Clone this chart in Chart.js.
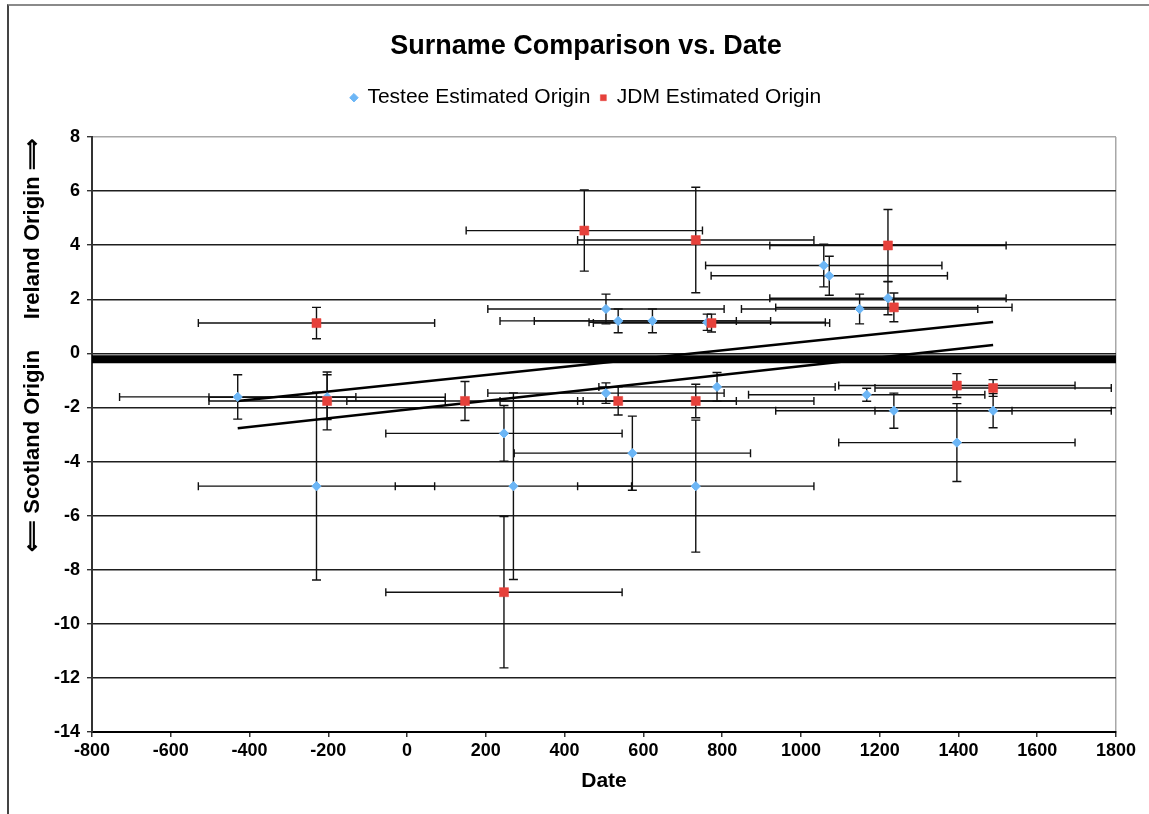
<!DOCTYPE html>
<html>
<head>
<meta charset="utf-8">
<script src="https://cdn.jsdelivr.net/npm/chart.js@4.4.1/dist/chart.umd.min.js"></script>
<style>
  html, body { margin: 0; padding: 0; background: #fff; }
  #wrap { position: relative; width: 1149px; height: 814px; overflow: hidden; }
  #frame { position: absolute; left: 7px; top: 4px; width: 1150px; height: 820px;
           border-left: 2px solid #444; border-top: 2px solid #8a8a8a; pointer-events: none; }
  canvas { position: absolute; left: 0; top: 0; }
</style>
</head>
<body>
<div id="wrap">
  <canvas id="c" width="1149" height="814"></canvas>
  <div id="frame"></div>
</div>
<script>
// ---- data ----
const chartTitle = 'Surname Comparison vs. Date';
const xTitle = 'Date';
const yTitle = '\u27F8 Scotland Origin     Ireland Origin \u27F9';
const seriesNames = ['Testee Estimated Origin', 'JDM Estimated Origin'];

const testeeX    = [505, 536, 623, 1058, 1072, 1149, 1221, 762, -430, -203, -230, 270, 733, 246, 572, 505, 787, 1167, 1236, 1488, 1396];
const testeeY    = [1.64, 1.20, 1.20, 3.25, 2.87, 1.64, 2.04, 1.15, -1.61, -1.62, -4.91, -4.91, -4.91, -2.96, -3.69, -1.47, -1.24, -1.53, -2.12, -2.12, -3.30];
const testeeXErr = [300, 300, 300, 300, 300, 300, 300, 300, 300, 300, 300, 300, 300, 300, 300, 300, 300, 300, 300, 300, 300];
const testeeYErr = [0.55, 0.44, 0.44, 0.79, 0.72, 0.55, 0.61, 0.30, 0.82, 0.83, 3.47, 3.45, 2.44, 1.03, 1.37, 0.38, 0.53, 0.24, 0.65, 0.63, 1.44];

const jdmX    = [-230, 450, 733, 1221, 773, 1236, -203, 147, 536, 733, 1396, 1488, 246];
const jdmY    = [1.12, 4.54, 4.19, 3.99, 1.12, 1.70, -1.76, -1.76, -1.76, -1.76, -1.19, -1.28, -8.83];
const jdmXErr = [300, 300, 300, 300, 300, 300, 300, 300, 300, 300, 300, 300, 300];
const jdmYErr = [0.58, 1.50, 1.95, 1.33, 0.33, 0.53, 1.07, 0.72, 0.52, 0.62, 0.44, 0.31, 2.80];

const trendAX = [-430, 1488];
const trendAY = [-1.76, 1.16];
const trendBX = [-430, 1488];
const trendBY = [-2.77, 0.31];
const dividerX = [-800, 1800];
const dividerY = [-0.22, -0.22];

const xMin = -800, xMax = 1800, xStep = 200;
const yMin = -14, yMax = 8, yStep = 2;

// ---- helpers ----
const FONT = "'Liberation Sans', Arial, Helvetica, sans-serif";
const toPts = (xs, ys) => xs.map((v, i) => ({ x: v, y: ys[i] }));

const errorBars = {
  id: 'errorBars',
  beforeDatasetsDraw(chart) {
    const { ctx, chartArea, scales: { x, y } } = chart;
    const sets = [
      [testeeX, testeeY, testeeXErr, testeeYErr],
      [jdmX, jdmY, jdmXErr, jdmYErr]
    ];
    ctx.save();
    ctx.beginPath();
    ctx.rect(chartArea.left - 1, chartArea.top - 1, chartArea.width + 2, chartArea.height + 2);
    ctx.clip();
    ctx.strokeStyle = '#111';
    ctx.lineWidth = 1.4;
    const capH = 4, capV = 4.5;
    sets.forEach(([xs, ys, xe, ye]) => {
      xs.forEach((xv, i) => {
        const yv = ys[i];
        const px = x.getPixelForValue(xv), py = y.getPixelForValue(yv);
        const x0 = x.getPixelForValue(xv - xe[i]), x1 = x.getPixelForValue(xv + xe[i]);
        const y0 = y.getPixelForValue(yv + ye[i]), y1 = y.getPixelForValue(yv - ye[i]);
        ctx.beginPath();
        ctx.moveTo(x0, py); ctx.lineTo(x1, py);
        ctx.moveTo(x0, py - capH); ctx.lineTo(x0, py + capH);
        ctx.moveTo(x1, py - capH); ctx.lineTo(x1, py + capH);
        ctx.moveTo(px, y0); ctx.lineTo(px, y1);
        ctx.moveTo(px - capV, y0); ctx.lineTo(px + capV, y0);
        ctx.moveTo(px - capV, y1); ctx.lineTo(px + capV, y1);
        ctx.stroke();
      });
    });
    ctx.restore();
  }
};

const yAxisTitle = {
  id: 'yAxisTitle',
  afterDraw(chart) {
    const { ctx } = chart;
    ctx.save();
    ctx.translate(33, 345);
    ctx.rotate(-Math.PI / 2);
    ctx.font = 'bold 22px ' + FONT;
    ctx.fillStyle = '#000';
    ctx.textAlign = 'center';
    ctx.textBaseline = 'middle';
    ctx.fillText(yTitle, 0, 0);
    ctx.restore();
  }
};

const lineDs = (label, xs, ys, width, order) => ({
  label, data: toPts(xs, ys), showLine: true, borderColor: '#000', backgroundColor: '#000',
  borderWidth: width, pointRadius: 0, pointHoverRadius: 0, order
});

new Chart(document.getElementById('c'), {
  type: 'scatter',
  data: {
    datasets: [
      { label: seriesNames[0], data: toPts(testeeX, testeeY), pointStyle: 'rectRot', pointRadius: 4.6,
        backgroundColor: '#6cb6f6', borderColor: '#6cb6f6', borderWidth: 1, order: 1 },
      { label: seriesNames[1], data: toPts(jdmX, jdmY), pointStyle: 'rect', pointRadius: 6.4,
        backgroundColor: '#e6413b', borderColor: '#e6413b', borderWidth: 0.5, order: 0 },
      lineDs('trend A', trendAX, trendAY, 2.4, 2),
      lineDs('trend B', trendBX, trendBY, 2.4, 2),
      lineDs('divider', dividerX, dividerY, 8, 3)
    ]
  },
  options: {
    responsive: false,
    devicePixelRatio: 1,
    animation: false,
    layout: { padding: { left: 23, right: 0, top: 0, bottom: 0 } },
    plugins: {
      title: { display: true, text: chartTitle, color: '#000',
               font: { family: FONT, size: 27, weight: 'bold', lineHeight: 1.2 },
               padding: { top: 30.4, bottom: 14.4 } },
      subtitle: { display: true, text: '', weight: 500, font: { size: 10, lineHeight: 1.88 }, padding: 0 },
      legend: {
        display: true, position: 'top',
        labels: {
          usePointStyle: true, boxWidth: 6, boxHeight: 6, padding: 10, color: '#000',
          font: { family: FONT, size: 21 },
          filter: (item) => item.datasetIndex < 2,
          sort: (a, b) => a.datasetIndex - b.datasetIndex
        }
      },
      tooltip: { enabled: false }
    },
    scales: {
      x: {
        type: 'linear', min: xMin, max: xMax,
        afterFit: (s) => { s.height = 82; },
        ticks: { stepSize: xStep, color: '#000', padding: 3, maxRotation: 0, autoSkip: false,
                 callback: (v) => String(v),
                 font: { family: FONT, size: 18, weight: 'bold' } },
        grid: { color: (c) => (c.tick && c.tick.value === xMax) ? '#a8a8a8' : 'rgba(0,0,0,0)',
                lineWidth: 1.5, tickColor: '#333', tickLength: 5 },
        border: { display: true, color: '#000', width: 2 },
        title: { display: true, text: xTitle, color: '#000',
                 font: { family: FONT, size: 21, weight: 'bold', lineHeight: 1.2 },
                 padding: { top: 0, bottom: 20 } }
      },
      y: {
        type: 'linear', min: yMin, max: yMax,
        afterFit: (s) => { s.width = 69; },
        ticks: { stepSize: yStep, color: '#000', padding: 7,
                 callback: (v) => String(v),
                 font: { family: FONT, size: 18, weight: 'bold' } },
        grid: { color: (c) => (c.tick && c.tick.value === yMax) ? '#a8a8a8' : '#1e1e1e',
                lineWidth: 1.4, tickColor: '#333', tickLength: 5 },
        border: { display: true, color: '#333', width: 2 }
      },
      yRight: {
        type: 'linear', position: 'right', min: yMin, max: yMax,
        afterFit: (s) => { s.width = 33; },
        ticks: { display: false },
        grid: { display: false },
        border: { display: false }
      }
    }
  },
  plugins: [errorBars, yAxisTitle]
});
</script>
</body>
</html>
